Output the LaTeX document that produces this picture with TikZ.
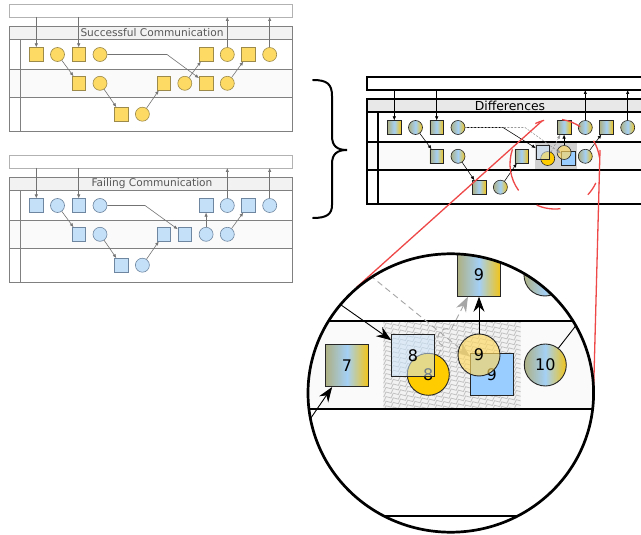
\documentclass[tikz,border=0pt]{standalone}
\usepackage{fontspec}
\setmainfont{DejaVu Sans}
\usetikzlibrary{arrows.meta,decorations.pathmorphing}
\definecolor{sfill}{HTML}{FDDA64}
\definecolor{sdraw}{HTML}{9C8A4A}
\definecolor{ffill}{HTML}{C4DFF8}
\definecolor{fdraw}{HTML}{6E86A0}
\definecolor{gL}{HTML}{ADB083}
\definecolor{gM}{HTML}{A4D0F5}
\definecolor{gR}{HTML}{F2C418}
\definecolor{redl}{HTML}{EE4848}
\definecolor{lbq}{HTML}{CCE4FB}
\definecolor{goldc}{HTML}{FFCC00}
\definecolor{ylc}{HTML}{FFD95E}
\definecolor{bsq}{HTML}{99CCFF}
\definecolor{rowf}{HTML}{FAFAFA}

\newcommand\laneframe[6]{%
  \draw[#1] (9,4) rectangle (292,17);
  \fill[#3] (9,26) rectangle (292,39);
  \fill[rowf] (9,69) rectangle (292,97);
  \draw[#2] (9,26) rectangle (292,131) (9,39) -- (292,39) (9,69) -- (292,69) (9,97) -- (292,97) (20,39) -- (20,131);
  \node[#4] (#6) at (152,32.5) {#5};
}
\newcommand\rowA[2]{%
  \node[bx,#2] (#1a0) at (36.3,54.5) {};
  \node[cc,#2] (#1a1) at (57.5,54.5) {};
  \node[bx,#2] (#1a2) at (78.7,54.5) {};
  \node[cc,#2] (#1a3) at (100,54.5) {};
  \node[bx,#2] (#1a8) at (206.1,54.5) {};
  \node[cc,#2] (#1a9) at (227.3,54.5) {};
  \node[bx,#2] (#1a10) at (248.5,54.5) {};
  \node[cc,#2] (#1a11) at (269.7,54.5) {};
  \node[bx,#2] (#1b2) at (78.7,83.3) {};
  \node[cc,#2] (#1b3) at (100,83.3) {};
  \node[bx,#2] (#1b6) at (163.6,83.3) {};
  \node[cc,#2] (#1b9) at (227.3,83.3) {};
  \node[bx,#2] (#1c4) at (121.2,114.2) {};
  \node[cc,#2] (#1c5) at (142.4,114.2) {};
  \coordinate (#1t0) at (36.3,17);
  \coordinate (#1t2) at (78.7,17);
  \coordinate (#1t9) at (227.3,17);
  \coordinate (#1t11) at (269.7,17);
}
\newcommand\commonedges[2]{%
  \draw[#2] (#1t0) -- (#1a0);
  \draw[#2] (#1t2) -- (#1a2);
  \draw[#2] (#1a1) -- (#1b2);
  \draw[#2] (#1b3) -- (#1c4);
  \draw[#2] (#1c5) -- (#1b6);
  \draw[#2] (#1a9) -- (#1t9);
  \draw[#2] (#1a11) -- (#1t11);
  \draw[#2] (#1b9) -- (#1a10);
}
\newcommand\rarc[2]{\draw[redline] (555,164) ++(-#1:45) arc[start angle=-#1, end angle=-#2, radius=45];}

\begin{document}
\begin{tikzpicture}[x=1pt,y=-1pt,
  bx/.style={rectangle, minimum size=13.5pt, inner sep=0pt},
  cc/.style={circle, minimum size=14pt, inner sep=0pt},
  snode/.style={draw=sdraw, fill=sfill, line width=0.6pt},
  fnode/.style={draw=fdraw, fill=ffill, line width=0.6pt},
  dnode/.style={draw=black!85, line width=0.6pt, left color=gL, right color=gR, middle color=gM},
  sbox/.style={draw=black!30, line width=0.8pt},
  sframe/.style={draw=black!50, line width=0.8pt},
  stext/.style={font=\fontsize{10.6}{10}\selectfont, text=black!66, inner sep=0pt},
  dbox/.style={draw=black, line width=1.6pt},
  dframe/.style={draw=black, line width=1.6pt},
  dtext/.style={font=\fontsize{12.4}{12}\selectfont, text=black, inner sep=0pt},
  sedge/.style={draw=black!55, line width=0.6pt, -{Latex[length=4pt,width=3.4pt]}},
  dedge/.style={draw=black, line width=0.55pt, -{Latex[length=4pt,width=3.4pt]}},
  dgedge/.style={draw=black!40, line width=0.6pt, dash pattern=on 2pt off 1.5pt, -{Latex[length=4pt,width=3.4pt]}},
  redline/.style={draw=redl, line width=1.3pt},
  bigbx/.style={rectangle, minimum size=42.5pt, inner sep=0pt, draw=black!85, line width=0.9pt, font=\fontsize{16}{16}\selectfont},
  bigcc/.style={circle, minimum size=42pt, inner sep=0pt, draw=black!85, line width=0.9pt, font=\fontsize{16}{16}\selectfont},
  bigedge/.style={draw=black, line width=0.9pt, -{Stealth[length=15pt,width=11pt]}},
  biggray/.style={draw=black!35, line width=0.9pt, dash pattern=on 6pt off 4pt, -{Stealth[length=15pt,width=11pt]}},
  hatchline/.style={draw=black!24, line width=0.8pt, decorate, decoration={snake, amplitude=1.7pt, segment length=8pt}}
]
\clip (0,0) rectangle (641,535);
\fill[white] (0,0) rectangle (641,535);

% ---------- Successful ----------
\begin{scope}
  \laneframe{sbox}{sframe}{fill=black!5}{stext}{Successful Communication}{shdr}
  \rowA{s}{snode}
  \node[cc,snode] (sb7) at (184.8,83.3) {};
  \node[bx,snode] (sb8) at (206.1,83.3) {};
  \coordinate (sk) at (167,54.5);
  \commonedges{s}{sedge}
  \draw[sedge] (sa3) -- (sk) -- (sb8);
  \draw[sedge] (sb7) -- (sa8);
\end{scope}

% ---------- Failing ----------
\begin{scope}[shift={(0,151)}]
  \laneframe{sbox}{sframe}{fill=black!5}{stext}{Failing Communication}{fhdr}
  \rowA{f}{fnode}
  \node[bx,fnode] (fb7) at (184.8,83.3) {};
  \node[cc,fnode] (fb8) at (206.1,83.3) {};
  \coordinate (fk) at (145,54.5);
  \commonedges{f}{sedge}
  \draw[sedge] (fa3) -- (fk) -- (fb7);
  \draw[sedge] (fb8) -- (fa8);
\end{scope}

% ---------- Brace ----------
\draw[line width=2pt, line cap=round] (313,80) .. controls (327,80) and (332,84) .. (332,96)
  -- (332,136) .. controls (332,146) and (337,150) .. (347,150)
  .. controls (337,150) and (332,154) .. (332,164) -- (332,205)
  .. controls (332,214) and (327,218) .. (313,218);

% ---------- Differences ----------
\begin{scope}[shift={(358,73)}]
  \laneframe{dbox}{dframe}{fill=black!9}{dtext}{Differences}{dhdr}
  \fill[black!18] (176.5,70.3) rectangle (218.5,96);
  \rowA{d}{dnode}
  \node[cc, draw=black!85, line width=0.6pt, fill=goldc] (dc8) at (189.7,85.5) {};
  \node[bx, draw=black!85, line width=0.6pt, fill=lbq, fill opacity=.55] (ds8) at (184.8,79.5) {};
  \node[bx, draw=black!85, line width=0.6pt, fill=bsq] (ds9) at (210.1,85.5) {};
  \node[cc, draw=black!85, line width=0.6pt, fill=ylc, fill opacity=.65] (dc9) at (206.1,79.5) {};
  \coordinate (dk1) at (145,54.5);
  \coordinate (dk2) at (167,54.5);
  \commonedges{d}{dedge}
  \draw[dedge] (da3) -- (dk1) -- (ds8);
  \draw[dgedge] (da3) -- (dk2) -- (ds9);
  \draw[dgedge] (dc8) -- (da8);
  \draw[dedge] (dc9) -- (da8);
\end{scope}

% ---------- red marks ----------
\rarc{8}{31}
\rarc{56}{81}
\rarc{104}{116}
\rarc{161}{216}
\rarc{246}{277}
\rarc{317}{335}
\draw[redline] (542,121) -- (356.4,287.5);
\draw[redline] (600,150) -- (593.6,391);

% ---------- magnifier ----------
\begin{scope}
  \clip (450.8,393) ellipse [x radius=142.8, y radius=139.2];
  \fill[white] (300,240) rectangle (641,535);
  \fill[rowf] (300,321) rectangle (641,409);
  \begin{scope}
    \clip (383.3,322.7) rectangle (520.7,407.7);
    \fill[black!5] (383.3,322.7) rectangle (520.7,407.7);
    \foreach \k in {0,...,36} {
      \draw[hatchline] (370,314+4.6*\k) -- ++(170,-80);
    }
  \end{scope}
  \draw[draw=black, line width=1.2pt] (300,321) -- (641,321) (300,409) -- (641,409) (300,516) -- (641,516);
  \node[bigbx, left color=gL, right color=gR, middle color=gM] (m7) at (347,365.3) {7};
  \node[bigcc, fill=goldc] (mc8) at (428.3,374.3) {8};
  \node[bigbx, fill=lbq, fill opacity=.55, text opacity=1] (ms8) at (413,355.5) {8};
  \node[bigbx, fill=bsq] (ms9) at (491.7,374.3) {9};
  \node[bigbx, left color=gL, right color=gR, middle color=gM] (ms9t) at (479,275) {9};
  \node[bigcc, left color=gL, right color=gR, middle color=gM] (mc9t) at (545,275) {};
  \node[bigcc, left color=gL, right color=gR, middle color=gM] (mc10) at (545.3,365) {10};
  \coordinate (ma) at (250,241);
  \coordinate (mb) at (300,218.4);
  \coordinate (mf) at (279.8,463.4);
  \coordinate (me) at (618,271.4);
  \coordinate (hp1) at (442.8,345.9);
  \coordinate (hp2) at (451.0,329.9);
  \coordinate (hc1) at (432.1,340.4);
  \coordinate (hc2) at (440.3,324.4);
  \draw[biggray] (mb) -- (ms9);
  \draw[bigedge] (ma) -- (ms8);
  \draw[bigedge] (mf) -- (m7);
  \draw[bigedge] (mc10) -- (me);
  \node[bigcc, fill=ylc, fill opacity=.65, text opacity=1] (mc9) at (479,355) {9};
  \draw[biggray] (mc8) -- (hp1) .. controls (hc1) and (hc2) .. (hp2) -- (ms9t);
  \draw[bigedge] (mc9) -- (ms9t);
\end{scope}
\draw[line width=2.7pt] (450.8,393) ellipse [x radius=142.8, y radius=139.2];
\end{tikzpicture}
\end{document}
